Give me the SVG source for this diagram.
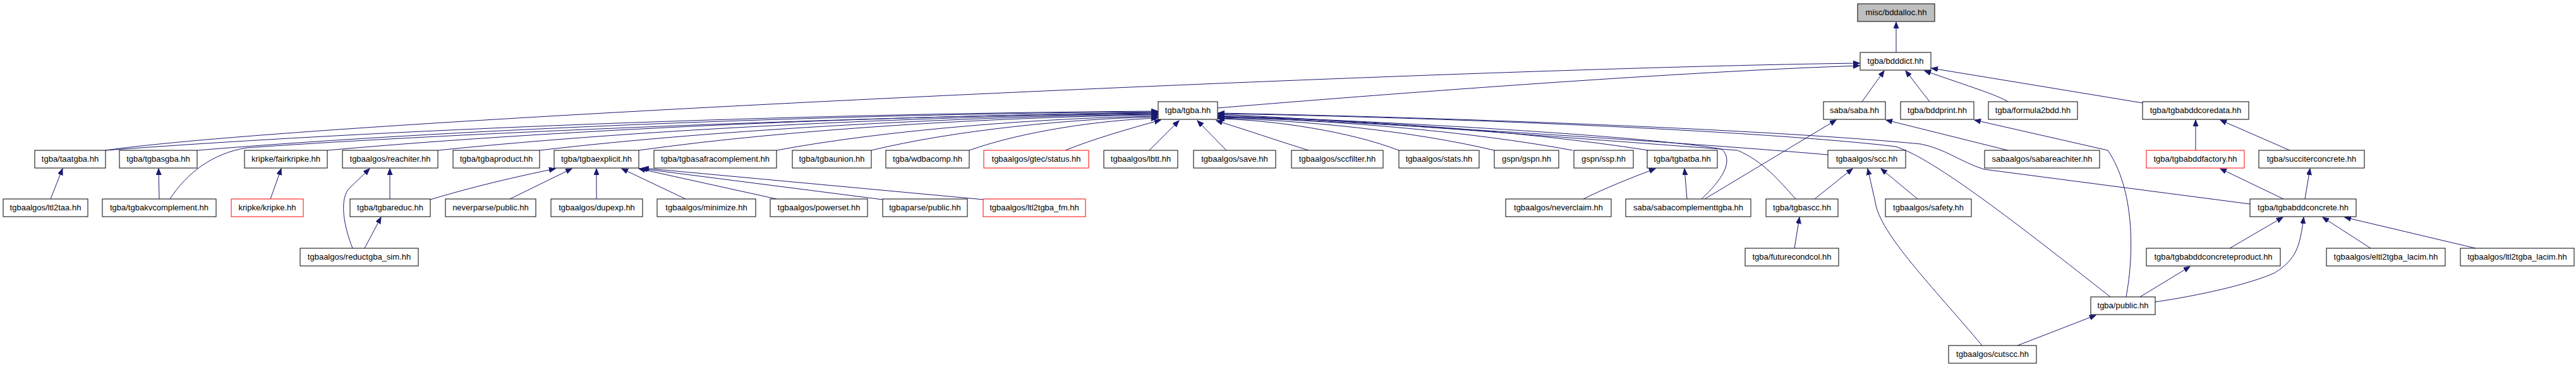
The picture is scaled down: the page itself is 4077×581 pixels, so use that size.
<svg xmlns="http://www.w3.org/2000/svg" width="4077" height="581" viewBox="0 0 4077 581">
<style>
.nd rect{fill:#fff;stroke:#000;stroke-width:1}
.nd.red rect{stroke:#ff0000}
.nd.gray rect{fill:#bfbfbf}
.nd text{font-family:'Liberation Sans',Arial,sans-serif;font-size:13px;text-anchor:middle;fill:#000}
#edges path{fill:none;stroke:#191970;stroke-width:1;marker-end:url(#ah)}
</style>
<defs>
<marker id="ah" markerWidth="11" markerHeight="9" refX="10" refY="4" orient="auto" markerUnits="userSpaceOnUse"><path d="M0,0L10,4L0,8z" fill="#191970" stroke="#191970" stroke-width="1"/></marker>
</defs>
<rect width="4077" height="581" fill="#fff"/>
<g id="edges">
<path d="M3001,83L3001,35"/>
<path d="M1927,171C2300,140 2700,112 2943,104"/>
<path d="M167,238C500,190 2300,108 2943,100"/>
<path d="M2947,161L2982,112"/>
<path d="M3054,161L3016,112"/>
<path d="M3178,161C3160,150 3120,138 3046,112"/>
<path d="M3391,163L3057,108"/>
<path d="M2698,315L2906,190"/>
<path d="M3178,238L2985,190"/>
<path d="M3365,470C3378,400 3378,300 3336,238L3125,190"/>
<path d="M2872,315L2932,267"/>
<path d="M3137,547C3060,455 2975,370 2968,320L2956,267"/>
<path d="M3035,315L2977,267"/>
<path d="M2840,393L2848,344"/>
<path d="M3193,547L3317,499"/>
<path d="M3475,238L3475,190"/>
<path d="M3624,238L3514,190"/>
<path d="M3614,315L3514,267"/>
<path d="M3648,315L3656,267"/>
<path d="M3529,393L3613,344"/>
<path d="M3411,478C3480,468 3560,450 3600,432C3635,410 3640,390 3646,344"/>
<path d="M3752,393L3676,344"/>
<path d="M3918,393L3711,344"/>
<path d="M3387,470L3466,422"/>
<path d="M2506,315C2540,298 2580,282 2620,267"/>
<path d="M2670,315L2666,267"/>
<path d="M80,315L99,267"/>
<path d="M252,315L251,267"/>
<path d="M428,315L445,267"/>
<path d="M617,315L617,267"/>
<path d="M558,393C545,360 537,320 551,300L585,267"/>
<path d="M577,393L603,344"/>
<path d="M681,316C760,292 840,275 879,267"/>
<path d="M807,315L905,267"/>
<path d="M944,315L944,267"/>
<path d="M1085,315L984,267"/>
<path d="M1229,315L1011,267"/>
<path d="M1397,316L1015,267"/>
<path d="M1557,316L1017,266"/>
<path d="M167,238C662,201 1331,179 1832,176"/>
<path d="M312,238C763,201 1375,180 1832,177"/>
<path d="M269,315C295,275 335,243 390,234C700,212 1300,186 1832,178"/>
<path d="M518,238C908,203 1437,182 1832,179"/>
<path d="M693,238C1032,203 1490,183 1832,180"/>
<path d="M854,238C1144,204 1538,184 1832,181"/>
<path d="M1011,238C1253,204 1585,185 1832,182"/>
<path d="M1229,238C1404,205 1662,186 1832,184"/>
<path d="M1379,238C1511,206 1695,188 1832,185"/>
<path d="M1534,238C1621,207 1745,190 1832,187"/>
<path d="M1686,238C1730,220 1790,203 1837,190"/>
<path d="M1819,238L1866,191"/>
<path d="M1941,238L1895,191"/>
<path d="M2071,238C2020,222 1970,205 1925,191"/>
<path d="M2214,238C2136,208 2016,190 1928,188"/>
<path d="M2365,238C2235,207 2059,190 1928,187"/>
<path d="M2489,238C2322,207 2097,189 1928,186"/>
<path d="M2609,238C2404,206 2132,188 1928,185"/>
<path d="M2893,245C2700,228 2200,195 1928,184"/>
<path d="M2693,315C2725,285 2745,255 2725,236C2600,215 2200,192 1928,183"/>
<path d="M2842,315C2815,285 2790,255 2750,238C2400,212 2100,188 1928,181"/>
<path d="M3340,470C3200,360 3060,250 3000,232C2800,208 2300,186 1928,180"/>
<path d="M3561,323L3140,268C3100,255 3080,236 3040,228C2800,205 2300,186 1928,179"/>
</g>
<g id="n_bddalloc" class="nd gray"><rect x="2940" y="6" width="122" height="28"/><text x="3001" y="24">misc/bddalloc.hh</text></g>
<g id="n_bdddict" class="nd"><rect x="2944" y="83" width="112" height="28"/><text x="3000" y="101">tgba/bdddict.hh</text></g>
<g id="n_tgba" class="nd"><rect x="1833" y="161" width="94" height="28"/><text x="1880" y="179">tgba/tgba.hh</text></g>
<g id="n_saba" class="nd"><rect x="2886" y="161" width="98" height="28"/><text x="2935" y="179">saba/saba.hh</text></g>
<g id="n_bddprint" class="nd"><rect x="3008" y="161" width="116" height="28"/><text x="3066" y="179">tgba/bddprint.hh</text></g>
<g id="n_formula2bdd" class="nd"><rect x="3147" y="161" width="141" height="28"/><text x="3217.5" y="179">tgba/formula2bdd.hh</text></g>
<g id="n_tgbabddcoredata" class="nd"><rect x="3391" y="161" width="168" height="28"/><text x="3475" y="179">tgba/tgbabddcoredata.hh</text></g>
<g id="n_taatgba" class="nd"><rect x="55" y="238" width="112" height="28"/><text x="111" y="256">tgba/taatgba.hh</text></g>
<g id="n_tgbasgba" class="nd"><rect x="189" y="238" width="123" height="28"/><text x="250.5" y="256">tgba/tgbasgba.hh</text></g>
<g id="n_fairkripke" class="nd"><rect x="387" y="238" width="131" height="28"/><text x="452.5" y="256">kripke/fairkripke.hh</text></g>
<g id="n_reachiter" class="nd"><rect x="542" y="238" width="151" height="28"/><text x="617.5" y="256">tgbaalgos/reachiter.hh</text></g>
<g id="n_tgbaproduct" class="nd"><rect x="717" y="238" width="137" height="28"/><text x="785.5" y="256">tgba/tgbaproduct.hh</text></g>
<g id="n_tgbaexplicit" class="nd"><rect x="877" y="238" width="134" height="28"/><text x="944" y="256">tgba/tgbaexplicit.hh</text></g>
<g id="n_tgbasafracomplement" class="nd"><rect x="1035" y="238" width="194" height="28"/><text x="1132" y="256">tgba/tgbasafracomplement.hh</text></g>
<g id="n_tgbaunion" class="nd"><rect x="1254" y="238" width="125" height="28"/><text x="1316.5" y="256">tgba/tgbaunion.hh</text></g>
<g id="n_wdbacomp" class="nd"><rect x="1402" y="238" width="132" height="28"/><text x="1468" y="256">tgba/wdbacomp.hh</text></g>
<g id="n_status" class="nd red"><rect x="1557" y="238" width="166" height="28"/><text x="1640" y="256">tgbaalgos/gtec/status.hh</text></g>
<g id="n_lbtt" class="nd"><rect x="1747" y="238" width="117" height="28"/><text x="1805.5" y="256">tgbaalgos/lbtt.hh</text></g>
<g id="n_save" class="nd"><rect x="1889" y="238" width="130" height="28"/><text x="1954" y="256">tgbaalgos/save.hh</text></g>
<g id="n_sccfilter" class="nd"><rect x="2044" y="238" width="145" height="28"/><text x="2116.5" y="256">tgbaalgos/sccfilter.hh</text></g>
<g id="n_stats" class="nd"><rect x="2214" y="238" width="127" height="28"/><text x="2277.5" y="256">tgbaalgos/stats.hh</text></g>
<g id="n_gspn" class="nd"><rect x="2365" y="238" width="102" height="28"/><text x="2416" y="256">gspn/gspn.hh</text></g>
<g id="n_ssp" class="nd"><rect x="2491" y="238" width="94" height="28"/><text x="2538" y="256">gspn/ssp.hh</text></g>
<g id="n_tgbatba" class="nd"><rect x="2607" y="238" width="111" height="28"/><text x="2662.5" y="256">tgba/tgbatba.hh</text></g>
<g id="n_scc" class="nd"><rect x="2893" y="238" width="123" height="28"/><text x="2954.5" y="256">tgbaalgos/scc.hh</text></g>
<g id="n_sabareachiter" class="nd"><rect x="3141" y="238" width="182" height="28"/><text x="3232" y="256">sabaalgos/sabareachiter.hh</text></g>
<g id="n_tgbabddfactory" class="nd red"><rect x="3397" y="238" width="155" height="28"/><text x="3474.5" y="256">tgba/tgbabddfactory.hh</text></g>
<g id="n_succiterconcrete" class="nd"><rect x="3575" y="238" width="167" height="28"/><text x="3658.5" y="256">tgba/succiterconcrete.hh</text></g>
<g id="n_ltl2taa" class="nd"><rect x="5" y="315" width="134" height="28"/><text x="72" y="333">tgbaalgos/ltl2taa.hh</text></g>
<g id="n_tgbakvcomplement" class="nd"><rect x="162" y="315" width="180" height="28"/><text x="252" y="333">tgba/tgbakvcomplement.hh</text></g>
<g id="n_kripke" class="nd red"><rect x="366" y="315" width="114" height="28"/><text x="423" y="333">kripke/kripke.hh</text></g>
<g id="n_tgbareduc" class="nd"><rect x="554" y="315" width="127" height="28"/><text x="617.5" y="333">tgba/tgbareduc.hh</text></g>
<g id="n_neverparse" class="nd"><rect x="705" y="315" width="143" height="28"/><text x="776.5" y="333">neverparse/public.hh</text></g>
<g id="n_dupexp" class="nd"><rect x="872" y="315" width="145" height="28"/><text x="944.5" y="333">tgbaalgos/dupexp.hh</text></g>
<g id="n_minimize" class="nd"><rect x="1040" y="315" width="156" height="28"/><text x="1118" y="333">tgbaalgos/minimize.hh</text></g>
<g id="n_powerset" class="nd"><rect x="1219" y="315" width="154" height="28"/><text x="1296" y="333">tgbaalgos/powerset.hh</text></g>
<g id="n_tgbaparse" class="nd"><rect x="1397" y="315" width="134" height="28"/><text x="1464" y="333">tgbaparse/public.hh</text></g>
<g id="n_ltl2tgba_fm" class="nd red"><rect x="1556" y="315" width="162" height="28"/><text x="1637" y="333">tgbaalgos/ltl2tgba_fm.hh</text></g>
<g id="n_neverclaim" class="nd"><rect x="2383" y="315" width="167" height="28"/><text x="2466.5" y="333">tgbaalgos/neverclaim.hh</text></g>
<g id="n_sabacomplementtgba" class="nd"><rect x="2573" y="315" width="198" height="28"/><text x="2672" y="333">saba/sabacomplementtgba.hh</text></g>
<g id="n_tgbascc" class="nd"><rect x="2795" y="315" width="114" height="28"/><text x="2852" y="333">tgba/tgbascc.hh</text></g>
<g id="n_safety" class="nd"><rect x="2984" y="315" width="136" height="28"/><text x="3052" y="333">tgbaalgos/safety.hh</text></g>
<g id="n_tgbabddconcrete" class="nd"><rect x="3561" y="315" width="168" height="28"/><text x="3645" y="333">tgba/tgbabddconcrete.hh</text></g>
<g id="n_reductgba_sim" class="nd"><rect x="475" y="393" width="187" height="28"/><text x="568.5" y="411">tgbaalgos/reductgba_sim.hh</text></g>
<g id="n_futurecondcol" class="nd"><rect x="2762" y="393" width="148" height="28"/><text x="2836" y="411">tgba/futurecondcol.hh</text></g>
<g id="n_tgbabddconcreteproduct" class="nd"><rect x="3397" y="393" width="212" height="28"/><text x="3503" y="411">tgba/tgbabddconcreteproduct.hh</text></g>
<g id="n_eltl2tgba_lacim" class="nd"><rect x="3682" y="393" width="188" height="28"/><text x="3776" y="411">tgbaalgos/eltl2tgba_lacim.hh</text></g>
<g id="n_ltl2tgba_lacim" class="nd"><rect x="3894" y="393" width="180" height="28"/><text x="3984" y="411">tgbaalgos/ltl2tgba_lacim.hh</text></g>
<g id="n_public" class="nd"><rect x="3309" y="470" width="102" height="28"/><text x="3360" y="488">tgba/public.hh</text></g>
<g id="n_cutscc" class="nd"><rect x="3084" y="547" width="139" height="28"/><text x="3153.5" y="565">tgbaalgos/cutscc.hh</text></g>
</svg>
